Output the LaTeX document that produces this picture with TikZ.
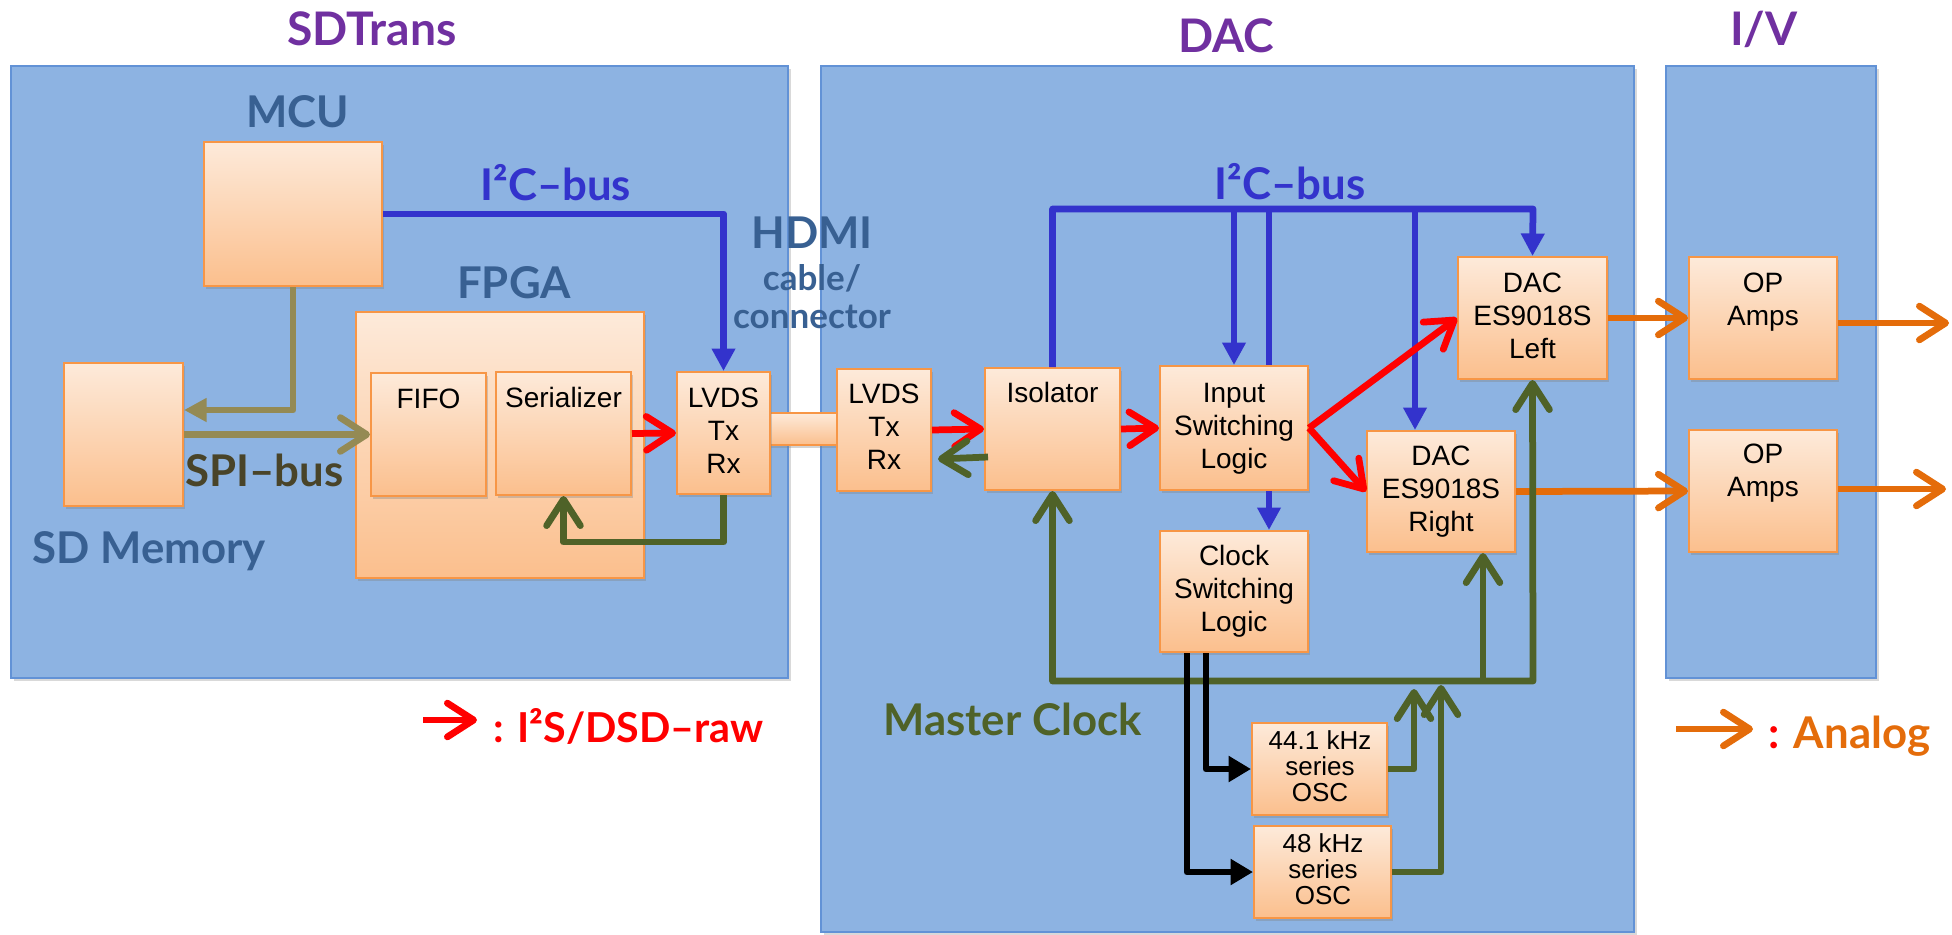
\documentclass[tikz,border=0pt]{standalone}
\usepackage{fontspec}
\setmainfont{Liberation Sans}
\newfontfamily\lblfont{Lato}
\usetikzlibrary{arrows.meta,shadows,fit,calc}

\definecolor{panelfill}{RGB}{141,179,226}
\definecolor{paneldraw}{RGB}{98,146,214}
\definecolor{boxtop}{RGB}{253,234,218}
\definecolor{boxbot}{RGB}{251,191,141}
\definecolor{boxdraw}{RGB}{247,150,70}
\definecolor{ttlpurple}{RGB}{112,48,160}
\definecolor{lblblue}{RGB}{56,96,146}
\definecolor{i2cblue}{RGB}{51,51,204}
\definecolor{olivec}{RGB}{148,138,84}
\definecolor{spitext}{RGB}{73,68,41}
\definecolor{clkgreen}{RGB}{79,98,40}
\definecolor{anaorange}{RGB}{228,108,10}
\definecolor{sigred}{RGB}{255,0,0}

\newcommand\mlines[1]{\begin{tabular}[t]{@{}c@{}}#1\end{tabular}}

\tikzset{
  panel/.style={draw=paneldraw, line width=0.6pt, fill=panelfill, inner sep=0pt,
    drop shadow={shadow xshift=1pt, shadow yshift=-1.2pt, opacity=0.3}},
  obox/.style={draw=boxdraw, line width=0.8pt, top color=boxtop, bottom color=boxbot, inner sep=0pt,
    drop shadow={shadow xshift=0.8pt, shadow yshift=-1pt, opacity=0.35}},
  btxt/.style={font=\fontsize{11.2}{13.2}\selectfont, inner sep=0pt, anchor=base},
  otxt/.style={font=\fontsize{10.4}{10.4}\selectfont, inner sep=0pt, anchor=base},
  ttl/.style={font=\lblfont\bfseries\fontsize{18.5}{19}\selectfont, text=ttlpurple, inner sep=0pt, anchor=base},
  lbl/.style={font=\lblfont\bfseries\fontsize{17.5}{18}\selectfont, text=lblblue, inner sep=0pt, anchor=base},
  smlbl/.style={font=\lblfont\bfseries\fontsize{14}{15}\selectfont, text=lblblue, inner sep=0pt, anchor=base},
  conn/.style={line width=2.7pt, line join=round},
  arrbarb/.style={-{Straight Barb[length=10.5pt,width=13.5pt,round]}},
  arrbarbboth/.style={{Straight Barb[length=10.5pt,width=13.5pt,round]}-{Straight Barb[length=10.5pt,width=13.5pt,round]}},
  arrtri/.style={-{Triangle[length=9pt,width=9pt]}},
  arrtrik/.style={-{Triangle[length=9pt,width=10pt]}},
}

\begin{document}
\begin{tikzpicture}[x=0.4pt,y=-0.4pt]
\useasboundingbox (0,0) rectangle (1952,934);

% panels
\node[panel, fit={(11,66)(788,678)}] (psd) {};
\node[panel, fit={(821,66)(1634,932)}] (pdac) {};
\node[panel, fit={(1666,66)(1876,678)}] (piv) {};

% titles
\node[ttl] (tsd) at (372,45) {SDTrans};
\node[ttl] (tdac) at (1226,52) {DAC};
\node[ttl] (tiv) at (1764,45) {I/V};

% boxes
\node[obox, fit={(204,142)(382,286)}] (mcu) {};
\node[obox, fit={(64,363)(183,506)}] (sd) {};
\node[obox, fit={(356,312)(644,578)}] (fpga) {};
\node[obox, fit={(371,373)(486,496)}] (fifo) {};
\node[obox, fit={(496,372)(631,495)}] (ser) {};
\node[obox, fit={(765,413)(842,445)}] (cable) {};
\node[obox, fit={(677,372)(770,494)}] (lvdsL) {};
\node[obox, fit={(837,369)(931,491)}] (lvdsR) {};
\node[obox, fit={(985,368)(1120,490)}] (iso) {};
\node[obox, fit={(1160,366)(1308,490)}] (inp) {};
\node[obox, fit={(1160,531)(1308,652)}] (clk) {};
\node[obox, fit={(1458,257)(1607,379)}] (dacL) {};
\node[obox, fit={(1367,431)(1515,552)}] (dacR) {};
\node[obox, fit={(1689,257)(1837,379)}] (opT) {};
\node[obox, fit={(1689,430)(1837,552)}] (opB) {};
\node[obox, fit={(1252,723)(1387,815)}] (osc44) {};
\node[obox, fit={(1254,826)(1391,918)}] (osc48) {};

% box texts
\node[btxt] (fifo-t) at (428.5,408) {FIFO};
\node[btxt] (ser-t) at (563.5,407) {Serializer};
\node[btxt] (lvdsL-t) at (723.5,407) {\mlines{LVDS\\Tx\\Rx}};
\node[btxt] (lvdsR-t) at (884,403) {\mlines{LVDS\\Tx\\Rx}};
\node[btxt] (iso-t) at (1052.5,402) {Isolator};
\node[btxt] (inp-t) at (1234,402) {\mlines{Input\\Switching\\Logic}};
\node[btxt] (clk-t) at (1234,565) {\mlines{Clock\\Switching\\Logic}};
\node[btxt] (dacL-t) at (1532.5,292) {\mlines{DAC\\ES9018S\\Left}};
\node[btxt] (dacR-t) at (1441,465) {\mlines{DAC\\ES9018S\\Right}};
\node[btxt] (opT-t) at (1763,292) {\mlines{OP\\Amps}};
\node[btxt] (opB-t) at (1763,463) {\mlines{OP\\Amps}};
\node[otxt] (osc44-t) at (1320,749) {\mlines{44.1 kHz\\series\\OSC}};
\node[otxt] (osc48-t) at (1323,852) {\mlines{48 kHz\\series\\OSC}};

% labels
\node[lbl] (lmcu) at (298,127) {MCU};
\node[lbl] (lfpga) at (514,298) {FPGA};
\node[lbl, anchor=base west] (lsdm) at (32,563) {SD Memory};
\node[lbl, anchor=base west, text=spitext] (lspi) at (185,486) {SPI–bus};
\node[lbl, anchor=base west, text=i2cblue] (li2cl) at (480,200) {I²C–bus};
\node[lbl, text=i2cblue] (li2cr) at (1290,199) {I²C–bus};
\node[lbl] (lhdmi) at (812,248) {HDMI};
\node[smlbl] (lcable) at (812,290) {cable/};
\node[smlbl] (lconn) at (812,328) {connector};
\node[lbl, anchor=base west, text=clkgreen] (lmclk) at (883,735) {Master Clock};
\node[lbl, anchor=base west, text=sigred, font=\lblfont\bfseries\fontsize{16.5}{17}\selectfont] (lgr) at (493,742) {: I²S/DSD–raw};
\node[lbl, anchor=base west, text=anaorange] (lgo) at (1768,748) {\textcolor{sigred}{:} Analog};

% coordinates
\coordinate (i2cR) at (1533,209);
\coordinate (mclk) at (1533,681);
\coordinate (t44) at (1414,689);
\coordinate (t48) at (1441,685);
\coordinate (outT) at (1949,323);
\coordinate (outB) at (1946,489);
\coordinate (lr1) at (423,720);
\coordinate (lr2) at (477,720);
\coordinate (lo1) at (1676,729);
\coordinate (lo2) at (1753,729);

% SDTrans connectors
\draw[conn, i2cblue, arrtri] (mcu.east) -| (lvdsL.north);
\draw[conn, olivec, arrtri] (mcu.south) |- ($(sd.east)+(0,-24.5)$);
\draw[conn, olivec, arrbarb] (sd.east) -- (fifo.west);
\draw[conn, sigred, arrbarb] (ser.east) -- (lvdsL.west);
\draw[conn, clkgreen, arrbarb] (lvdsL.south) -- ++(0,47) -| (ser.south);

% DAC I2C bus
\draw[conn, i2cblue, arrtri] (iso.north) |- (i2cR) -- (dacL.north);
\draw[conn, i2cblue, arrtri] (inp.north |- i2cR) -- (inp.north);
\draw[conn, i2cblue] ($(inp.north |- i2cR)+(35,0)$) -- ($(inp.north)+(35,0)$);
\draw[conn, i2cblue, arrtri] ($(inp.south)+(35,0)$) -- ($(clk.north)+(35,0)$);
\draw[conn, i2cblue, arrtri] ($(dacR.north |- i2cR)+(-26,0)$) -- ($(dacR.north)+(-26,0)$);

% signal path
\draw[conn, sigred, arrbarb] (lvdsR.east) -- (iso.west);
\draw[conn, clkgreen, arrbarb] ($(iso.west)+(4,28)$) -- ($(lvdsR.east)+(6,29)$);
\draw[conn, sigred, arrbarb] (iso.east) -- (inp.west);
\draw[conn, sigred, arrbarb] (inp.east) -- (dacL.west);
\draw[conn, sigred, arrbarb] (inp.east) -- (dacR.west);

% analog
\draw[conn, anaorange, arrbarb] (dacL.east) -- (opT.west);
\draw[conn, anaorange, arrbarb] (dacR.east) -- (opB.west);
\draw[conn, anaorange, arrbarb] ($(opT.east)+(0,5)$) -- (outT);
\draw[conn, anaorange, arrbarb] ($(opB.east)+(0,-2)$) -- (outB);

% master clock
\draw[conn, clkgreen, arrbarbboth] (iso.south) |- (mclk) -- (dacL.south);
\draw[conn, clkgreen, arrbarb] ($(dacR.south |- mclk)+(42,0)$) -- ($(dacR.south)+(42,0)$);
\draw[conn, clkgreen, arrbarb] (osc44.east) -| (t44);
\draw[conn, clkgreen, arrbarb] (osc48.east) -| (t48);
\draw[conn, black, arrtrik] ($(clk.south)+(-47,0)$) |- (osc48.west);
\draw[conn, black, arrtrik] ($(clk.south)+(-28,0)$) |- (osc44.west);

% legends
\draw[conn, sigred, arrbarb] (lr1) -- (lr2);
\draw[conn, anaorange, arrbarb] (lo1) -- (lo2);
\end{tikzpicture}
\end{document}
